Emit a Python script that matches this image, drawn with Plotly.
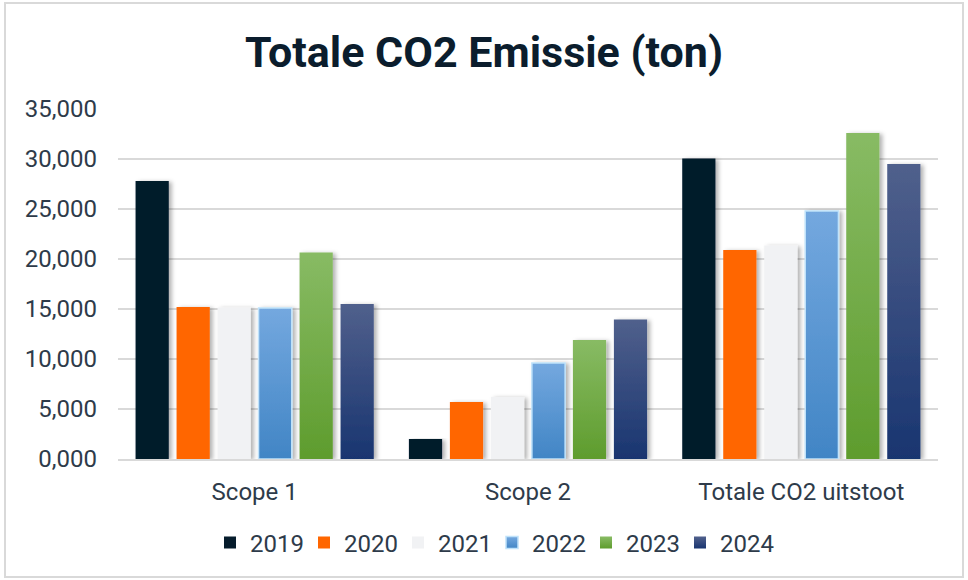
import plotly.graph_objects as go

categories = ["Scope 1", "Scope 2", "Totale CO2 uitstoot"]
years = ["2019", "2020", "2021", "2022", "2023", "2024"]
values = {
    "2019": [27800, 2000, 30050],
    "2020": [15200, 5700, 20900],
    "2021": [15150, 6200, 21350],
    "2022": [15100, 9600, 24800],
    "2023": [20650, 11900, 32600],
    "2024": [15500, 13950, 29500],
}
tick_vals = [0, 5000, 10000, 15000, 20000, 25000, 30000, 35000]
tick_text = ["0,000", "5,000", "10,000", "15,000", "20,000", "25,000", "30,000", "35,000"]

colors = {
    "2019": "#061C2C",
    "2020": "#FF6600",
    "2021": "#F1F2F4",
    "2022": "#5A9AD8",
    "2023": "#70AC44",
    "2024": "#2C4478",
}
line_colors = {
    "2019": "#061C2C",
    "2020": "#FF6600",
    "2021": "#F1F2F4",
    "2022": "#BFE2FA",
    "2023": "#70AC44",
    "2024": "#2C4478",
}
line_widths = {"2019": 0, "2020": 0, "2021": 0, "2022": 1.5, "2023": 0, "2024": 0}

fig = go.Figure()
for y in years:
    fig.add_trace(go.Bar(
        name=y, x=categories, y=values[y],
        marker=dict(color=colors[y], line=dict(color=line_colors[y], width=line_widths[y])),
    ))

W, H = 968, 580
L, R, T, B = 118, 30, 109, 121
pw = W - L - R
ph = H - T - B

text_color = "#2E3B4A"
fig.update_layout(
    width=W, height=H,
    margin=dict(l=L, r=R, t=T, b=B),
    paper_bgcolor="white", plot_bgcolor="white",
    barmode="group", bargap=0.1, bargroupgap=0.19,
    font=dict(family="Roboto", size=24, color=text_color),
    title=dict(text="<b>Totale CO2 Emissie (ton)</b>", x=0.5, xref="container", xanchor="center",
               y=1 - 52 / H, yref="container", yanchor="middle",
               font=dict(family="Roboto", size=43, color="#0B1D2D")),
    showlegend=True,
    legend=dict(orientation="h", x=(492 - L) / pw, xanchor="center", y=(459 - 543) / ph,
                yanchor="middle", font=dict(size=24, color=text_color), traceorder="normal",
                itemwidth=30, entrywidth=49, entrywidthmode="pixels"),
    yaxis=dict(range=[0, 35000], tickvals=tick_vals, ticktext=tick_text, showgrid=True,
               gridcolor="#D9D9D9", gridwidth=1.5, zeroline=False, showline=False,
               ticklabelstandoff=20, ticks=""),
    xaxis=dict(showline=True, linecolor="#D9D9D9", linewidth=1.5, ticks="", ticklabelstandoff=10),
    shapes=[dict(type="rect", xref="paper", yref="paper",
                 x0=(5 - L) / pw, x1=(963 - L) / pw, y0=(459 - 577) / ph, y1=(459 - 3) / ph,
                 line=dict(color="#D9D9D9", width=2), fillcolor="rgba(0,0,0,0)", layer="below")],
)

post_js = """
document.body.style.margin = '0';
var gd = document.getElementById('{plot_id}');
(function () {
  var NS = 'http://www.w3.org/2000/svg';
  var svg = gd.querySelector('svg.main-svg');
  var defs = svg.querySelector('defs');
  var grads = {3: ['#74A8DF', '#4185C5'], 4: ['#88BB64', '#5E9C2D'], 5: ['#50608C', '#193570']};
  Object.keys(grads).forEach(function (k) {
    var g = document.createElementNS(NS, 'linearGradient');
    g.setAttribute('id', 'barGrad' + k);
    g.setAttribute('x1', '0'); g.setAttribute('y1', '0');
    g.setAttribute('x2', '0'); g.setAttribute('y2', '1');
    [[0, grads[k][0]], [1, grads[k][1]]].forEach(function (s) {
      var st = document.createElementNS(NS, 'stop');
      st.setAttribute('offset', s[0]);
      st.setAttribute('stop-color', s[1]);
      g.appendChild(st);
    });
    defs.appendChild(g);
  });
  var f = document.createElementNS(NS, 'filter');
  f.setAttribute('id', 'barShadow');
  f.setAttribute('x', '-20%'); f.setAttribute('y', '-5%');
  f.setAttribute('width', '160%'); f.setAttribute('height', '110%');
  var ds = document.createElementNS(NS, 'feDropShadow');
  ds.setAttribute('dx', '3'); ds.setAttribute('dy', '1');
  ds.setAttribute('stdDeviation', '2');
  ds.setAttribute('flood-color', '#000');
  ds.setAttribute('flood-opacity', '0.3');
  f.appendChild(ds);
  defs.appendChild(f);
  gd.querySelectorAll('g.trace.bars').forEach(function (tr, i) {
    tr.querySelectorAll('path').forEach(function (p) {
      if (grads[i]) { p.style.fill = 'url(#barGrad' + i + ')'; }
      p.setAttribute('filter', 'url(#barShadow)');
    });
  });
  gd.querySelectorAll('g.legend g.traces').forEach(function (tr, i) {
    if (grads[i]) {
      tr.querySelectorAll('g.legendpoints path').forEach(function (p) {
        p.style.fill = 'url(#barGrad' + i + ')';
      });
    }
  });
})();
"""

fig.write_html("out.html", post_script=post_js, config={"displayModeBar": False})
